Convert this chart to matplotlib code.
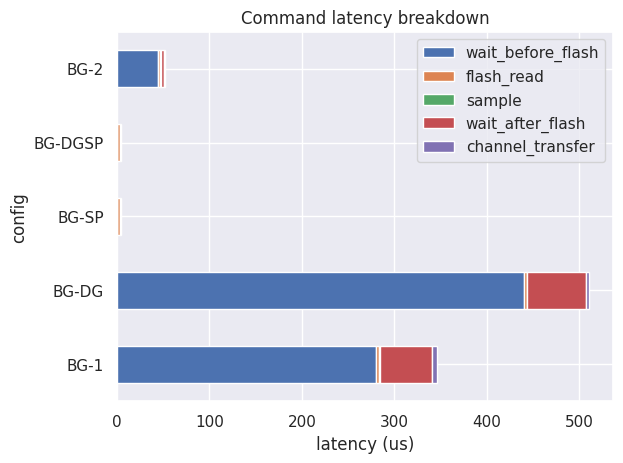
import matplotlib
matplotlib.use("Agg")
import matplotlib.pyplot as plt
import seaborn as sns
import pandas as pd

sns.set_theme()

configs = ["BG-1", "BG-DG", "BG-SP", "BG-DGSP", "BG-2"]
wait_before_flash = [280, 440, 0, 0, 44]
flash_read = [3, 3, 3.5, 3.5, 3]
sample = [1, 1, 0.3, 0.3, 0.8]
wait_after_flash = [57, 63, 0, 0, 3.5]
channel_transfer = [5, 4, 0, 0, 0.8]

df = pd.DataFrame({
    "wait_before_flash": wait_before_flash,
    "flash_read": flash_read,
    "sample": sample,
    "wait_after_flash": wait_after_flash,
    "channel_transfer": channel_transfer,
}, index=configs)
df.index.name = "config"

ax = df.plot.barh(stacked=True, figsize=(6.4, 4.8))
ax.set_xlabel("latency (us)")
ax.set_ylabel("config")
ax.set_title("Command latency breakdown")
plt.savefig("out.png", dpi=100, bbox_inches="tight")
